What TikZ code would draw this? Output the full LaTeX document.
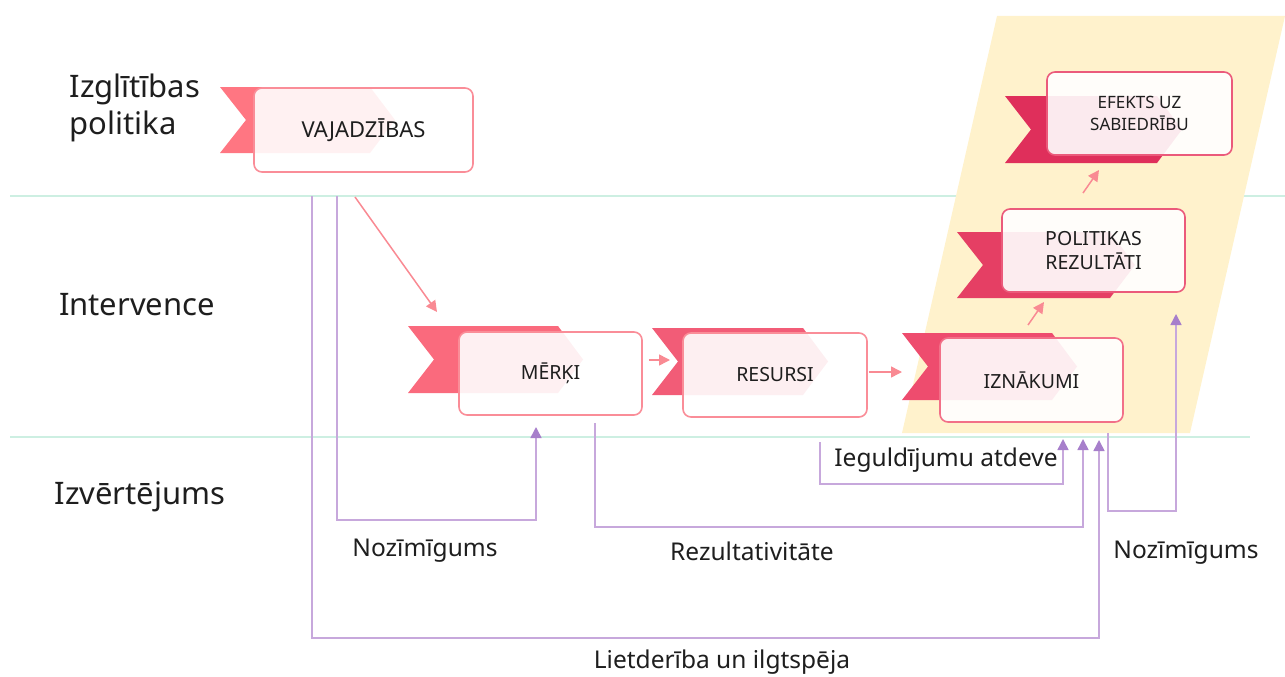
\documentclass[tikz,border=0pt]{standalone}
\usepackage{fontspec}
\setmainfont{Noto Sans}
\usetikzlibrary{arrows.meta}
\definecolor{ribA}{HTML}{FF7682}
\definecolor{ribB}{HTML}{FA6A7D}
\definecolor{ribC}{HTML}{F25C77}
\definecolor{ribD}{HTML}{EE4C6E}
\definecolor{ribE}{HTML}{E53F64}
\definecolor{ribF}{HTML}{DF2F5B}
\definecolor{lineA}{HTML}{FA8D98}
\definecolor{lineB}{HTML}{F27088}
\definecolor{lineC}{HTML}{EB5A7B}
\definecolor{yell}{HTML}{FFF2CC}
\definecolor{lanecol}{HTML}{CDEFE2}
\definecolor{purpline}{HTML}{C7A8DC}
\definecolor{purparrow}{HTML}{A77FCB}
\definecolor{pinkarrow}{HTML}{F98A93}
\definecolor{textcol}{HTML}{1E1E1E}
\tikzset{
  box/.style={draw=#1, line width=1.6pt, rounded corners=8pt, fill=white, fill opacity=0.9, text opacity=1,
    font=\fontsize{19.5}{24}\selectfont, text=textcol, align=center, inner sep=0pt},
  eval/.style={draw=purpline, line width=1.5pt, -{Triangle[width=11pt,length=11pt,color=purparrow]}},
  flow/.style={draw=pinkarrow, line width=1.5pt, -{Triangle[width=11pt,length=11pt]}},
  lane/.style={draw=lanecol, line width=2pt},
  lbl/.style={font=\fontsize{24.5}{29}\selectfont, text=textcol},
  rowlbl/.style={font=\fontsize{31}{37}\selectfont, text=textcol, align=left},
}
\newcommand\ribbonshape[5]{%
  \fill[#1] (#2,#3) -- (#5,#3) -- ({#5+25},{(#3+#4)/2}) -- (#5,#4) -- (#2,#4) -- ({#2+26},{(#3+#4)/2}) -- cycle;}
\begin{document}
\begin{tikzpicture}[x=1pt,y=-1pt]
\useasboundingbox (0,0) rectangle (1285,677);
% lanes
\draw[lane] (10,196) -- (1285,196);
\draw[lane] (10,437) -- (1250,437);
% yellow band
\fill[yell] (997,16) -- (1285,16) -- (1190,433) -- (902,433) -- cycle;
% row labels
\node[rowlbl, anchor=west] (rowA) at (66,108) {Izglītības\\politika};
\node[rowlbl] (rowB) at (137,305) {Intervence};
\node[rowlbl] (rowC) at (140,497) {Izvērtējums};
% ribbons
\ribbonshape{ribA}{220}{87}{153}{370}
\ribbonshape{ribB}{408}{326}{393}{558}
\ribbonshape{ribC}{652}{328}{395}{803}
\ribbonshape{ribD}{902}{333}{400}{1052}
\ribbonshape{ribE}{957}{232}{298}{1110}
\ribbonshape{ribF}{1005}{96}{163}{1157}
% boxes
\node[box=lineA, minimum width=219pt, minimum height=84pt, font=\fontsize{22}{26}\selectfont] (vaj) at (363.5,130) {VAJADZĪBAS};
\node[box=lineA, minimum width=183pt, minimum height=83pt] (mer) at (550.5,373.5) {MĒRĶI};
\node[box=lineA, minimum width=184pt, minimum height=84pt] (res) at (775,375) {RESURSI};
\node[box=lineB, minimum width=183pt, minimum height=84pt] (izn) at (1031.5,380) {IZNĀKUMI};
\node[box=lineC, minimum width=183pt, minimum height=83pt] (pol) at (1093.5,250.5) {POLITIKAS\\REZULTĀTI};
\node[box=lineC, minimum width=185pt, minimum height=83pt, font=\fontsize{17}{22}\selectfont] (efe) at (1139.5,113.5) {EFEKTS UZ\\SABIEDRĪBU};
% pink flow arrows
\coordinate (f1a) at (355,197); \coordinate (f1b) at (437,312);
\draw[flow] (f1a) -- (f1b);
\draw[flow] (mer.east |- 0,360) ++(6,0) -- (670,360);
\draw[flow] (res.east |- 0,372) ++(1,0) -- (902,372);
\draw[flow] (1028,325) -- (1044,302);
\draw[flow] (1083,193) -- (1099,170);
% evaluation loops
\coordinate (e1) at (312,196);
\coordinate (e2) at (337,196);
\coordinate (e3) at (595,423);
\coordinate (e4) at (820,442);
\coordinate (e5) at (1108,433);
\draw[eval] (e1) -- (312,638) -- (1099,638) -- (1099,440);
\draw[eval] (e2) -- (337,520) -- (536,520) -- (536,427);
\draw[eval] (e3) -- (595,527) -- (1083,527) -- (1083,439);
\draw[eval] (e4) -- (820,484) -- (1063,484) -- (1063,439);
\draw[eval] (e5) -- (1108,511) -- (1176,511) -- (1176,314);
% evaluation labels
\node[lbl] (l1) at (425,551) {Nozīmīgums};
\node[lbl] (l2) at (752,551) {Rezultativitāte};
\node[lbl] (l3) at (946,460) {Ieguldījumu atdeve};
\node[lbl] (l4) at (1186,553) {Nozīmīgums};
\node[lbl] (l5) at (722,662) {Lietderība un ilgtspēja};
\end{tikzpicture}
\end{document}
